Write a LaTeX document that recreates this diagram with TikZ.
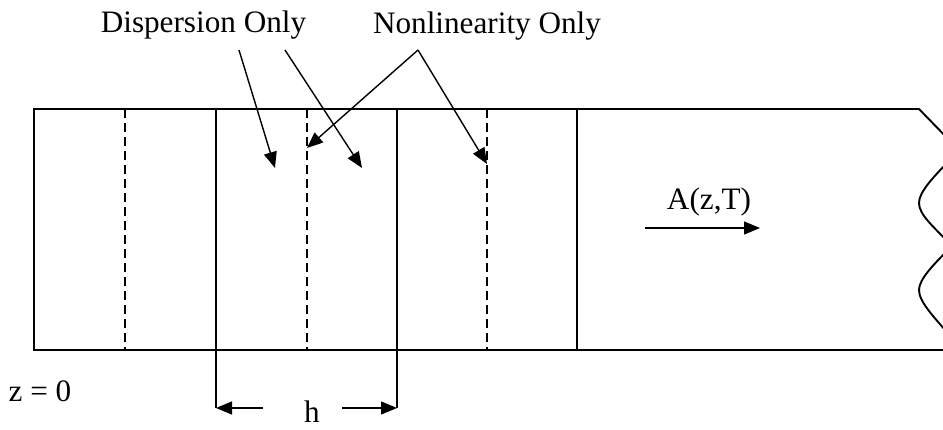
\documentclass[tikz,border=0pt]{standalone}
\usepackage{fontspec}
\setmainfont{Liberation Serif}
\usetikzlibrary{arrows.meta}
\begin{document}
\begin{tikzpicture}[x=1pt,y=-1pt,
  edge/.style={line width=1.9pt},
  dashline/.style={line width=1.8pt, dash pattern=on 9pt off 5pt},
  pointer/.style={line width=1.4pt, -{Triangle[length=16pt,width=13pt]}},
  lab/.style={anchor=base, inner sep=0pt, font=\fontsize{31.2}{36}\selectfont}]
\useasboundingbox (0,0) rectangle (943,429);
\clip (0,0) rectangle (943,429);
\fill[white] (0,0) rectangle (943,429);
% fibre outline
\draw[edge] (952,350) -- (34,350) -- (34,109) -- (919,109) -- (954,145);
\draw[edge] (954,156) .. controls (933,177) and (919,192) .. (919,203)
  .. controls (919,215) and (934,227) .. (952,246)
  .. controls (934,264) and (919,279) .. (919,290)
  .. controls (919,302) and (934,317) .. (952,338);
% segment lines
\draw[edge] (216,109) -- (216,408);
\draw[edge] (397,109) -- (397,408);
\draw[edge] (577,109) -- (577,350);
\draw[dashline] (125,109) -- (125,350);
\draw[dashline] (307,109) -- (307,350);
\draw[dashline] (487,109) -- (487,350);
% labels
\node[lab] (disp) at (203.5,32) {Dispersion Only};
\node[lab] (nonlin) at (487,33) {Nonlinearity Only};
\node[lab] (azt) at (709,209) {A(z,T)};
\node[lab] (z0) at (40,401) {z = 0};
\node[lab] (hlab) at (312,422) {h};
% pointer coordinates
\coordinate (d1s) at (239,50);
\coordinate (d1t) at (275,168);
\coordinate (d2s) at (285,50);
\coordinate (d2t) at (362,168);
\coordinate (napex) at (418,50);
\coordinate (n1t) at (307,148);
\coordinate (n2t) at (487,164);
\coordinate (as) at (645,228);
\coordinate (at) at (760,228);
\coordinate (hls) at (263,408);
\coordinate (hlt) at (216,408);
\coordinate (hrs) at (342,408);
\coordinate (hrt) at (397,408);
\draw[pointer] (d1s) -- (d1t);
\draw[pointer] (d2s) -- (d2t);
\draw[pointer] (napex) -- (n1t);
\draw[pointer] (napex) -- (n2t);
\draw[pointer] (as) -- (at);
\draw[pointer] (hls) -- (hlt);
\draw[pointer] (hrs) -- (hrt);
\end{tikzpicture}
\end{document}
